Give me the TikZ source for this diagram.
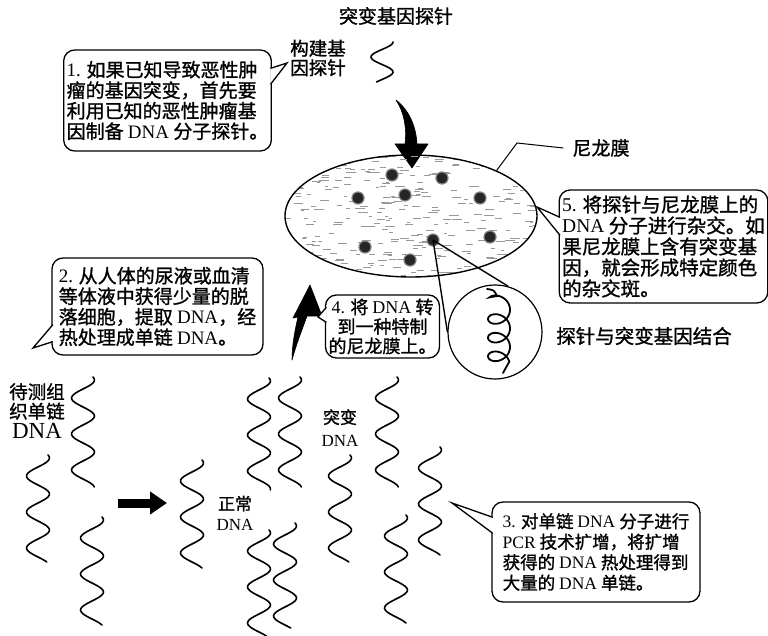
\documentclass[tikz,border=0pt]{standalone}
\usepackage{fontspec}
\setmainfont{Liberation Serif}
\newfontfamily\cjk[FakeBold=1.2]{Noto Sans CJK SC}
\usetikzlibrary{shapes.geometric,arrows.meta}

% Latin words inside the Chinese text
\newcommand\EN[1]{{\rmfamily #1}}

\begin{document}
\begin{tikzpicture}[x=1pt, y=-1pt,
      bubble/.style = {draw, line width=1.3pt, rounded corners=11pt, fill=white,
                       inner sep=3pt, align=left, font=\cjk\fontsize{19}{20.5}\selectfont},
      bubbletail/.style = {fill=white, line width=1.3pt, line join=miter},
      lbl/.style = {inner sep=0pt, align=center, font=\cjk\fontsize{18.5}{19.5}\selectfont},
      dnastrand/.style = {line width=1.6pt, line cap=round},
      spotdot/.style = {circle, fill=black!85, draw=black!50, line width=1.2pt,
                        minimum size=12pt, inner sep=0pt},
      bigarrow/.style = {fill=black, draw=black, line width=0.6pt, line join=round}
    ]
    \useasboundingbox (0,0) rectangle (768,636);

    % probe on top
    \node[lbl, font=\cjk\fontsize{19}{20}\selectfont] (title) at (396,16) {突变基因探针};
    \node[lbl] (probelbl) at (318,58) {构建基\\因探针};
    \draw[dnastrand] plot[smooth, samples=30, domain=42:82] ({382+11*cos(12*(\x-42))}, \x);

    % curved arrow down onto the membrane
    \fill[bigarrow] (396,100) .. controls (404,112) and (407,128) .. (405,144)
       -- (395,144) -- (412,168) -- (428,144) -- (417,144)
       .. controls (416,126) and (409,110) .. (396,100) -- cycle;

    % nylon membrane with its grain
    \begin{scope}
      \clip (411,216) ellipse [x radius=126pt, y radius=61pt];
      \pgfmathsetseed{42}
      \foreach \k in {1,...,340}{
        \pgfmathsetmacro\hx{282+256*rnd}
        \pgfmathsetmacro\hy{155+124*rnd}
        \pgfmathsetmacro\hl{3+7*rnd}
        \draw[black!40, line width=0.7pt] (\hx,\hy) -- ++(\hl,0);
      }
    \end{scope}
    \node[draw, ellipse, line width=1.4pt, minimum width=252pt, minimum height=122pt,
          inner sep=0pt] (membrane) at (411,216) {};

    \foreach \sx/\sy [count=\i] in {392/175, 442/178, 358/198, 405/195, 480/198,
                                    490/237, 433/240, 365/247, 410/260}
      \node[spotdot] (spot\i) at (\sx,\sy) {};

    \node[lbl, font=\cjk\fontsize{19}{20}\selectfont] (nylonlbl) at (601,148) {尼龙膜};
    \draw[line width=1pt] (membrane.28) -- (517,143) -- ([xshift=-9pt]nylonlbl.west);

    % close-up of the hybridised spot
    \node[circle, draw, line width=1.2pt, fill=white, minimum size=94pt,
          inner sep=0pt] (closeup) at (495,332) {};
    \draw[line width=1.4pt] (spot7.center) -- (closeup.west);
    \draw[line width=1.4pt] (spot7.center) -- (closeup.74);
    \draw[dnastrand, line width=1.8pt] (487,289) .. controls (494,290) .. (497,296)
        -- plot[smooth, samples=120, domain=-60:1150]
        ({499+11*sin(\x)}, {305+\x/1080*56-9*cos(\x)}) -- (503,373);
    \node[lbl, font=\cjk\fontsize{19.5}{20}\selectfont] (bindlbl) at (644,336) {探针与突变基因结合};

    % single strands of DNA
    \foreach \sx/\sa/\sb in {83/377/487, 38/455/562, 92/517/625, 192/460/568,
                             259/378/490, 290/377/487, 259/530/636, 285/523/628,
                             340/455/562, 387/377/487, 430/447/555, 396/515/623}
      \draw[dnastrand] plot[smooth, samples=60, domain=\sa:\sb]
          ({\sx+11.5*cos(10*(\x-\sa)-30)}, \x);

    \node[lbl] (samplelbl) at (37,411)
        {待测组\\织单链\\[1pt]{\rmfamily\fontsize{23}{23}\selectfont DNA}};
    \node[lbl, font=\cjk\fontsize{17}{20}\selectfont] (normallbl) at (235,513)
        {正常\\\EN{DNA}};
    \node[lbl, font=\cjk\fontsize{17}{23}\selectfont] (mutantlbl) at (340,428)
        {突变\\\EN{DNA}};

    \coordinate (pcrfrom) at (118,503);
    \coordinate (pcrto)   at (167,503);
    \draw[line width=9pt, -{Triangle[length=17pt, width=22pt]}] (pcrfrom) -- (pcrto);

    % curved arrow up to the membrane
    \fill[bigarrow] (292,360) .. controls (292,345) and (295,330) .. (298,317)
       -- (293,318) -- (310,285) -- (322,316) -- (307,316)
       .. controls (302,330) and (296,345) .. (292,360) -- cycle;

    % speech bubbles
    \node[bubble, minimum width=203pt, minimum height=101pt] (b1) at (167.5,100.5)
        {\EN{1.} 如果已知导致恶性肿\\瘤的基因突变，首先要\\利用已知的恶性肿瘤基\\因制备 \EN{DNA} 分子探针。};
    \coordinate (tip1) at (287,63);
    \draw[bubbletail] ([xshift=-1.5pt,yshift=-19pt]b1.north east) -- (tip1)
        -- ([xshift=-1.5pt,yshift=-35pt]b1.north east);

    \node[bubble, minimum width=211pt, minimum height=97pt] (b2) at (157.5,306.5)
        {\EN{2.} 从人体的尿液或血清\\等体液中获得少量的脱\\落细胞，提取 \EN{DNA}，经\\热处理成单链 \EN{DNA}。};
    \coordinate (tip2) at (33,348);
    \draw[bubbletail] ([xshift=1.5pt,yshift=31pt]b2.south west) -- (tip2)
        -- ([xshift=1.5pt,yshift=14pt]b2.south west);

    \node[bubble, font=\cjk\fontsize{17.5}{20.5}\selectfont, minimum width=208pt,
          minimum height=100pt] (b3) at (596,552)
        {\EN{3.} 对单链 \EN{DNA} 分子进行\\\EN{PCR} 技术扩增，将扩增\\获得的 \EN{DNA} 热处理得到\\大量的 \EN{DNA} 单链。};
    \coordinate (tip3) at (452,503);
    \draw[bubbletail] ([xshift=1.5pt,yshift=-16pt]b3.north west) -- (tip3)
        -- ([xshift=1.5pt,yshift=-32pt]b3.north west);

    \node[bubble, align=center, font=\cjk\fontsize{18}{19.5}\selectfont,
          minimum width=111pt, minimum height=63pt] (b4) at (382.5,326.5)
        {\EN{4.} 将 \EN{DNA} 转\\到一种特制\\的尼龙膜上。};
    \coordinate (tip4) at (318,317);
    \draw[bubbletail] ([xshift=1.5pt,yshift=-13pt]b4.north west) -- (tip4)
        -- ([xshift=1.5pt,yshift=-28pt]b4.north west);

    \node[bubble, font=\cjk\fontsize{19.5}{21}\selectfont, minimum width=203pt,
          minimum height=113pt] (b5) at (663.5,246.5)
        {\EN{5.} 将探针与尼龙膜上的\\\EN{DNA} 分子进行杂交。如\\果尼龙膜上含有突变基\\因，就会形成特定颜色\\的杂交斑。};
    \coordinate (tip5) at (537,207);
    \draw[bubbletail] ([xshift=1.5pt,yshift=-28pt]b5.north west) -- (tip5)
        -- ([xshift=1.5pt,yshift=-46pt]b5.north west);
  \end{tikzpicture}
\end{document}
